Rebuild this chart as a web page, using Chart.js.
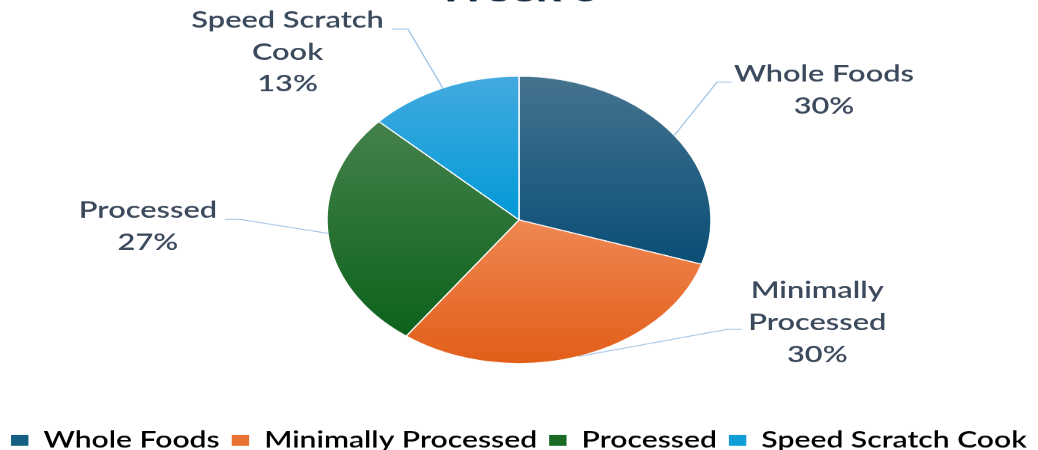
<!DOCTYPE html>
<html>
<head>
<meta charset="utf-8">
<script src="https://cdn.jsdelivr.net/npm/chart.js@4"></script>
<style>
  html, body { margin: 0; padding: 0; background: #ffffff; overflow: hidden; width: 1038px; height: 450px; }
  #wrap { position: absolute; left: 0; top: -30px; width: 776px; height: 491px; transform: scaleX(1.3376); transform-origin: 0 0; }
</style>
</head>
<body>
<div id="wrap"><canvas id="c" width="776" height="491"></canvas></div>
<script>
// ---- data ----
const titleText = 'Week 5';
const categories = ['Whole Foods', 'Minimally Processed', 'Processed', 'Speed Scratch Cook'];
const shares = [30, 30, 27, 13];
const sliceLabelLines = [['Whole Foods'], ['Minimally', 'Processed'], ['Processed'], ['Speed Scratch', 'Cook']];

// ---- styles ----
const solidColors = ['#156082', '#E97132', '#196B24', '#0F9ED5'];
const gradTop = ['#45738f', '#ef8853', '#45814b', '#43aadf'];
const gradBottom = ['#0a4e76', '#e25e18', '#0c621a', '#029ad8'];
const FONT = 'Lato';
const OFFSET_Y = 30;       // canvas shifted up by this amount
const PIE_R = 143.5;
const LINE_H = 32;
const labelLayout = [
  { tx: 616, ty: 74, elbow: [536, 82], end: [547, 82] },
  { tx: 611, ty: 290, elbow: [543.5, 329], end: [554.7, 329] },
  { tx: 110.6, ty: 210, elbow: [179.4, 219], end: [168.2, 219] },
  { tx: 215, ty: 20, elbow: [305, 29], end: [293, 29] }
];

const total = shares.reduce((a, b) => a + b, 0);

function sliceFill(c) {
  const i = c.dataIndex;
  const chart = c.chart;
  const ca = chart.chartArea;
  if (!ca || i === undefined) return solidColors[i] || solidColors[0];
  const cy = (ca.top + ca.bottom) / 2;
  let acc = 0;
  for (let j = 0; j < i; j++) acc += shares[j];
  const a0 = -Math.PI / 2 + acc / total * Math.PI * 2;
  const a1 = a0 + shares[i] / total * Math.PI * 2;
  let minY = cy, maxY = cy;
  for (let k = 0; k <= 60; k++) {
    const a = a0 + (a1 - a0) * k / 60;
    const y = cy + PIE_R * Math.sin(a);
    if (y < minY) minY = y;
    if (y > maxY) maxY = y;
  }
  const g = chart.ctx.createLinearGradient(0, minY, 0, maxY);
  g.addColorStop(0, gradTop[i]);
  g.addColorStop(1, gradBottom[i]);
  return g;
}

const sliceLabels = {
  id: 'sliceLabels',
  afterDraw(chart) {
    const ctx = chart.ctx;
    const meta = chart.getDatasetMeta(0);
    ctx.save();
    meta.data.forEach((arc, i) => {
      const p = arc.getProps(['x', 'y', 'startAngle', 'endAngle', 'outerRadius'], true);
      const mid = (p.startAngle + p.endAngle) / 2;
      const ax = p.x + Math.cos(mid) * p.outerRadius;
      const ay = p.y + Math.sin(mid) * p.outerRadius;
      const L = labelLayout[i];
      ctx.beginPath();
      ctx.moveTo(ax, ay);
      ctx.lineTo(L.elbow[0], L.elbow[1] + OFFSET_Y);
      ctx.lineTo(L.end[0], L.end[1] + OFFSET_Y);
      ctx.strokeStyle = '#9cc3e6';
      ctx.lineWidth = 1;
      ctx.stroke();
      const lines = sliceLabelLines[i].concat([shares[i] + '%']);
      ctx.fillStyle = '#3b495c';
      ctx.font = '600 23px ' + FONT;
      ctx.textAlign = 'center';
      ctx.textBaseline = 'middle';
      lines.forEach((t, k) => ctx.fillText(t, L.tx, L.ty + OFFSET_Y + k * LINE_H));
    });
    ctx.restore();
  }
};

new Chart(document.getElementById('c'), {
  type: 'pie',
  data: {
    labels: categories,
    datasets: [{
      data: shares,
      backgroundColor: sliceFill,
      borderColor: '#ffffff',
      borderWidth: 1,
      radius: PIE_R,
      hoverOffset: 0
    }]
  },
  options: {
    responsive: false,
    devicePixelRatio: 1.3376,
    animation: false,
    layout: { padding: { left: -6, right: -6, top: 0, bottom: 0 } },
    plugins: {
      title: {
        display: true,
        text: titleText,
        color: '#0e2841',
        font: { family: FONT, size: 36, weight: 'bold', lineHeight: 1.1 },
        padding: { top: 0, bottom: 10 }
      },
      legend: {
        position: 'bottom',
        labels: {
          color: '#26374e',
          font: { family: FONT, size: 22.5, weight: 600 },
          boxWidth: 13,
          boxHeight: 11,
          padding: 9,
          generateLabels: (chart) => categories.map((t, i) => ({
            text: t, fillStyle: solidColors[i], strokeStyle: solidColors[i], lineWidth: 0, hidden: false, index: i
          }))
        }
      },
      tooltip: { enabled: false }
    }
  },
  plugins: [sliceLabels]
});
</script>
</body>
</html>
